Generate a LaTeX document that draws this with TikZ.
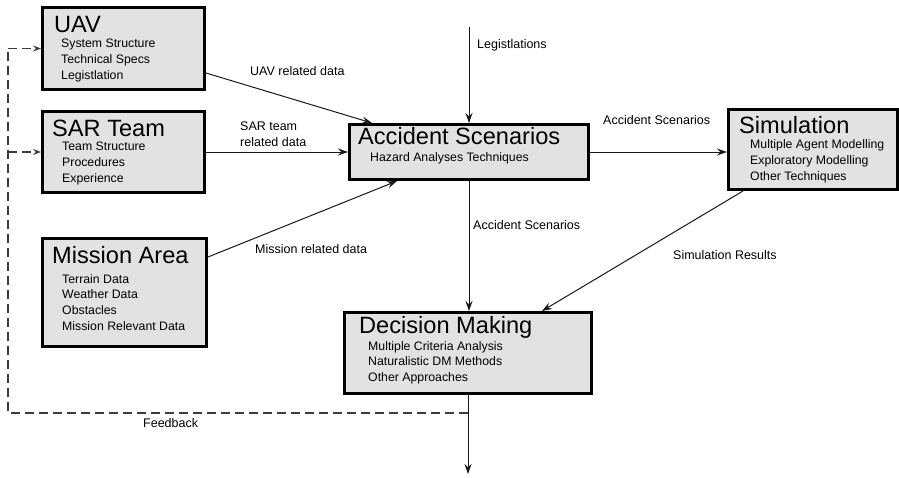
\documentclass[tikz,border=0pt]{standalone}
\usepackage{fontspec}
\setmainfont{Liberation Sans}
\usetikzlibrary{arrows.meta}

\definecolor{boxfill}{RGB}{226,226,226}
\definecolor{fbline}{RGB}{60,60,60}

\tikzset{
  blk/.style={draw=black, line width=3pt, fill=boxfill, rectangle, inner sep=0pt, anchor=north west},
  ttl/.style={inner sep=0pt, anchor=base west, font=\fontsize{23.6}{28}\selectfont},
  itm/.style={inner sep=0pt, anchor=base west, font=\fontsize{12.3}{16}\selectfont},
  lbl/.style={inner sep=0pt, anchor=base west, font=\fontsize{12.5}{16}\selectfont},
  flow/.style={draw=black!90, line width=1pt, -{Stealth[length=10pt, width=7pt, inset=3.5pt]}},
  fb/.style={draw=fbline, line width=1.4pt, dash pattern=on 9pt off 5pt},
  fbarrow/.style={fb, -{Stealth[length=8pt, width=6pt, inset=3pt]}},
}

\begin{document}
\begin{tikzpicture}[x=1pt, y=-1pt]
\useasboundingbox (0,0) rectangle (899,477);

% ---- boxes ----
\node[blk, minimum width=162pt, minimum height=82pt] (uav) at (41,6) {};
\node[blk, minimum width=162pt, minimum height=81pt] (sar) at (41,110) {};
\node[blk, minimum width=164pt, minimum height=108pt] (mis) at (41,237) {};
\node[blk, minimum width=239pt, minimum height=55pt] (acc) at (348,123) {};
\node[blk, minimum width=169pt, minimum height=80pt] (sim) at (727,108) {};
\node[blk, minimum width=247pt, minimum height=81pt] (dec) at (343,311) {};

% ---- box titles ----
\node[ttl] (uavT) at (54,32) {UAV};
\node[ttl] (sarT) at (52,136) {SAR Team};
\node[ttl] (misT) at (52,263) {Mission Area};
\node[ttl] (accT) at (358,144) {Accident Scenarios};
\node[ttl] (simT) at (739,133) {Simulation};
\node[ttl] (decT) at (359,333) {Decision Making};

% ---- box contents ----
\foreach \t [count=\i] in {System Structure, Technical Specs, Legistlation}
  \node[itm] (uavI\i) at (61,{31+16*\i}) {\t};
\foreach \t [count=\i] in {Team Structure, Procedures, Experience}
  \node[itm] (sarI\i) at (62,{134+16*\i}) {\t};
\foreach \t [count=\i] in {Terrain Data, Weather Data, Obstacles, Mission Relevant Data}
  \node[itm] (misI\i) at (62,{267.5+15.7*\i}) {\t};
\node[itm] (accI1) at (370,161) {Hazard Analyses Techniques};
\foreach \t [count=\i] in {Multiple Agent Modelling, Exploratory Modelling, Other Techniques}
  \node[itm] (simI\i) at (750,{132+16*\i}) {\t};
\foreach \t [count=\i] in {Multiple Criteria Analysis, Naturalistic DM Methods, Other Approaches}
  \node[itm] (decI\i) at (368,{334.5+15.5*\i}) {\t};

% ---- free ends ----
\coordinate (legsrc) at (469,27);
\coordinate (outend) at (468,474);
\coordinate (fbx) at (8,0);

% ---- connectors ----
\draw[flow] ([yshift=-24.5pt]uav.east) -- ([xshift=24pt]acc.north west);
\draw[flow] (sar.east) -- (sar.east -| acc.west);
\draw[flow] ([yshift=35.5pt]mis.east) -- ([xshift=49pt]acc.south west);
\draw[flow] (legsrc) -- (legsrc |- acc.north);
\draw[flow] (acc.east) -- (acc.east -| sim.west);
\draw[flow] (acc.south) -- (acc.south |- dec.north);
\draw[flow] ([xshift=16pt]sim.south west) -- ([xshift=-51pt]dec.north east);
\draw[flow] (dec.south) -- (dec.south |- outend);

% ---- feedback loop ----
\coordinate (fbsplit) at (dec.south |- 0,413);
\draw[fb] (fbsplit) -| (fbx |- uav.west);
\draw[fbarrow] (fbx |- uav.west) -- (uav.west);
\draw[fbarrow] (fbx |- sar.west) -- (sar.west);

% ---- connector labels ----
\node[lbl] (lUav) at (250,75) {UAV related data};
\node[lbl] (lSar1) at (240,130) {SAR team};
\node[lbl] (lSar2) at (240,146) {related data};
\node[lbl] (lMis) at (255,253) {Mission related data};
\node[lbl] (lLeg) at (477,48) {Legistlations};
\node[lbl] (lAccS) at (603,124) {Accident Scenarios};
\node[lbl] (lAccD) at (473,229) {Accident Scenarios};
\node[lbl] (lSim) at (673,259) {Simulation Results};
\node[lbl] (lFb) at (143,427) {Feedback};
\end{tikzpicture}
\end{document}
